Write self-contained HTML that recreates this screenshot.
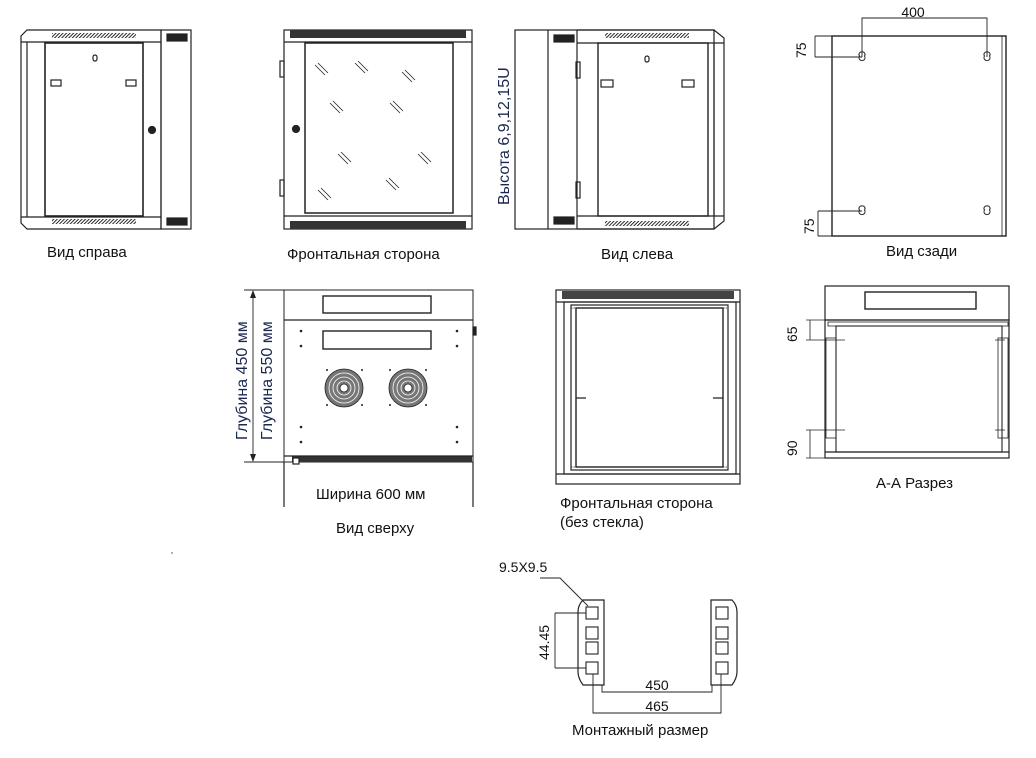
<!DOCTYPE html>
<html><head><meta charset="utf-8"><style>
html,body{margin:0;padding:0;background:#fff;}
svg{display:block;}
text{font-family:"Liberation Sans",sans-serif;fill:#111;}
</style></head><body>
<svg width="1036" height="758" viewBox="0 0 1036 758" xmlns="http://www.w3.org/2000/svg">
<defs>
<pattern id="hatch" width="2.5" height="2.5" patternUnits="userSpaceOnUse" patternTransform="rotate(45)"><rect width="2.5" height="2.5" fill="#fff"/><line x1="0" y1="0" x2="0" y2="2.5" stroke="#111" stroke-width="1.8"/></pattern>
</defs>
<g fill="none" stroke="#222" stroke-width="1.2">
<path d="M27,30 H161 V229 H27 L21,223 V36 Z" fill="#fff"/>
<rect x="161" y="30" width="30" height="199"/>
<rect x="167" y="34" width="20" height="7" fill="#222"/>
<rect x="167" y="218" width="20" height="7" fill="#222"/>
<rect x="52" y="33" width="84" height="5" fill="url(#hatch)" stroke="none"/>
<rect x="52" y="219" width="84" height="5" fill="url(#hatch)" stroke="none"/>
<line x1="21" y1="42" x2="161" y2="42"/><line x1="21" y1="217" x2="161" y2="217"/>
<line x1="27" y1="42" x2="27" y2="217"/>
<rect x="45" y="43" width="98" height="173" stroke-width="1.6"/>
<rect x="51" y="80" width="10" height="6"/><rect x="126" y="80" width="10" height="6"/>
<rect x="93" y="55" width="4" height="6" rx="2"/>
<circle cx="152" cy="130" r="3.5" fill="#222"/>
<rect x="284" y="30" width="188" height="199" fill="#fff"/>
<rect x="290" y="30" width="176" height="8" fill="#333" stroke="none"/>
<rect x="290" y="221" width="176" height="8" fill="#333" stroke="none"/>
<line x1="284" y1="42" x2="472" y2="42"/><line x1="284" y1="216" x2="472" y2="216"/>
<rect x="305" y="43" width="148" height="170" stroke-width="1.5"/>
<rect x="280" y="61" width="4" height="16"/><rect x="280" y="180" width="4" height="16"/>
<circle cx="296" cy="129" r="3.5" fill="#222"/>
<g stroke-width="0.8">
<path d="M315,65 l10,10 M318,63 l10,10 M355,63 l10,10 M358,61 l10,10 M402,72 l10,10 M405,70 l10,10 M330,103 l10,10 M333,101 l10,10 M390,103 l10,10 M393,101 l10,10 M338,154 l10,10 M341,152 l10,10 M418,154 l10,10 M421,152 l10,10 M386,180 l10,10 M389,178 l10,10 M318,190 l10,10 M321,188 l10,10"/>
</g>
<rect x="515" y="30" width="199" height="199" fill="#fff"/>
<path d="M577,30 H714 L724,38 V221 L714,229 H577"/>
<line x1="548" y1="30" x2="548" y2="229"/><line x1="577" y1="30" x2="577" y2="229"/>
<rect x="554" y="35" width="20" height="7" fill="#222"/>
<rect x="554" y="217" width="20" height="7" fill="#222"/>
<rect x="605" y="33" width="84" height="5" fill="url(#hatch)" stroke="none"/>
<rect x="605" y="221" width="84" height="5" fill="url(#hatch)" stroke="none"/>
<line x1="577" y1="43" x2="724" y2="43"/><line x1="577" y1="216" x2="724" y2="216"/>
<rect x="598" y="43" width="110" height="173" stroke-width="1.4"/>
<line x1="714" y1="43" x2="714" y2="216"/>
<rect x="601" y="80" width="12" height="7"/><rect x="682" y="80" width="12" height="7"/>
<rect x="645" y="56" width="4" height="6" rx="2"/>
<rect x="576" y="62" width="4" height="16"/><rect x="576" y="182" width="4" height="16"/>
<rect x="832" y="36" width="174" height="200" stroke-width="1.4"/>
<line x1="1002" y1="36" x2="1002" y2="236" stroke-width="0.8"/>
<g stroke-width="0.9">
<path d="M862,57 V18 H987 V57"/>
<path d="M815,36 H832 M815,57 H862 M815,36 V57"/>
<path d="M818,211 H862 M818,236 H832 M818,211 V236"/>
</g>
<g stroke-width="1">
<path d="M862,52 a2.5,2.5 0 0 1 2.5,4 a3,3 0 1 1 -5,0 a2.5,2.5 0 0 1 2.5,-4z"/>
<path d="M987,52 a2.5,2.5 0 0 1 2.5,4 a3,3 0 1 1 -5,0 a2.5,2.5 0 0 1 2.5,-4z"/>
<path d="M862,206 a2.5,2.5 0 0 1 2.5,4 a3,3 0 1 1 -5,0 a2.5,2.5 0 0 1 2.5,-4z"/>
<path d="M987,206 a2.5,2.5 0 0 1 2.5,4 a3,3 0 1 1 -5,0 a2.5,2.5 0 0 1 2.5,-4z"/>
</g>
<rect x="284" y="290" width="189" height="172" fill="#fff" stroke-width="1"/>
<line x1="284" y1="320" x2="473" y2="320"/>
<line x1="284" y1="462" x2="284" y2="507"/><line x1="473" y1="462" x2="473" y2="507"/>
<rect x="323" y="296" width="108" height="17" stroke-width="1.4"/>
<rect x="323" y="331" width="108" height="18" stroke-width="1.4"/>
<rect x="292" y="456" width="180" height="6" fill="#333" stroke="none"/>
<line x1="284" y1="456" x2="473" y2="456"/>
<rect x="473" y="327" width="3" height="8" fill="#222"/>
<rect x="293" y="458" width="6" height="6" fill="#fff"/>
<g stroke-width="0.9">
<line x1="244" y1="290" x2="284" y2="290"/><line x1="244" y1="462" x2="292" y2="462"/>
<line x1="253" y1="292" x2="253" y2="460"/>
</g>
<path d="M253,290 l-3,8 h6z M253,462 l-3,-8 h6z" fill="#222" stroke="none"/>
<g fill="#222" stroke="none">
<circle cx="301" cy="331" r="1.3"/><circle cx="301" cy="346" r="1.3"/><circle cx="457" cy="331" r="1.3"/><circle cx="457" cy="346" r="1.3"/>
<circle cx="301" cy="427" r="1.3"/><circle cx="301" cy="442" r="1.3"/><circle cx="457" cy="427" r="1.3"/><circle cx="457" cy="442" r="1.3"/>
<circle cx="327" cy="370" r="1"/><circle cx="362" cy="370" r="1"/><circle cx="327" cy="405" r="1"/><circle cx="362" cy="405" r="1"/>
<circle cx="390" cy="370" r="1"/><circle cx="426" cy="370" r="1"/><circle cx="390" cy="405" r="1"/><circle cx="426" cy="405" r="1"/>
</g>
<g stroke-width="0.8">
<circle cx="344" cy="388" r="19" fill="#777"/><circle cx="344" cy="388" r="15" stroke="#fff"/><circle cx="344" cy="388" r="11" stroke="#fff"/><circle cx="344" cy="388" r="7" stroke="#fff"/><circle cx="344" cy="388" r="4" fill="#fff"/>
<circle cx="408" cy="388" r="19" fill="#777"/><circle cx="408" cy="388" r="15" stroke="#fff"/><circle cx="408" cy="388" r="11" stroke="#fff"/><circle cx="408" cy="388" r="7" stroke="#fff"/><circle cx="408" cy="388" r="4" fill="#fff"/>
</g>
<rect x="556" y="290" width="184" height="194"/>
<rect x="562" y="291" width="172" height="8" fill="#444" stroke="none"/>
<line x1="556" y1="302" x2="740" y2="302"/>
<line x1="556" y1="474" x2="740" y2="474"/>
<rect x="564" y="302" width="172" height="172"/>
<rect x="571" y="305" width="157" height="165"/>
<rect x="576" y="308" width="147" height="159" stroke-width="1.4"/>
<rect x="571" y="308" width="5" height="159" stroke-width="0.7" stroke-dasharray="1.5,1"/>
<rect x="723" y="308" width="5" height="159" stroke-width="0.7" stroke-dasharray="1.5,1"/>
<path d="M576,398 h10 M713,398 h10"/>
<rect x="825" y="286" width="184" height="34"/>
<rect x="865" y="292" width="111" height="17" stroke-width="1.4"/>
<rect x="825" y="320" width="184" height="138"/>
<rect x="828" y="322" width="180" height="4" stroke-width="0.8"/>
<rect x="836" y="326" width="166" height="126" stroke-width="1.1"/>
<line x1="825" y1="452" x2="1009" y2="452"/>
<rect x="826" y="338" width="10" height="100" stroke-width="0.8"/>
<rect x="998" y="338" width="10" height="100" stroke-width="0.8"/>
<g stroke-width="0.8">
<path d="M806,320 H825 M806,340 H845 M810,320 V340"/>
<path d="M806,430 H845 M806,458 H825 M810,430 V458"/>
<path d="M995,340 h10 M995,430 h10"/>
</g>
<path d="M583,600 H604 V685 H583 Q578,678 578,672 V612 Q578,605 583,600 Z"/>
<path d="M711,600 H732 Q737,605 737,612 V672 Q737,678 732,685 H711 Z"/>
<g stroke-width="1.1">
<rect x="586" y="607" width="12" height="12"/><rect x="586" y="627" width="12" height="12"/><rect x="586" y="642" width="12" height="12"/><rect x="586" y="662" width="12" height="12"/>
<rect x="716" y="607" width="12" height="12"/><rect x="716" y="627" width="12" height="12"/><rect x="716" y="642" width="12" height="12"/><rect x="716" y="662" width="12" height="12"/>
</g>
<g stroke-width="0.9">
<path d="M540,578 H560 L588,606"/>
<path d="M555,613 H586 M555,668 H586 M555,613 V668"/>
<path d="M602,685 V692 H712 V685"/>
<path d="M593,674 V713 H721 V674"/>
</g>
</g>
<circle cx="172" cy="553" r="0.7" fill="#444"/>
<g font-size="15">
<text x="47" y="257">Вид справа</text>
<text x="287" y="259">Фронтальная сторона</text>
<text x="601" y="259">Вид слева</text>
<text x="886" y="256">Вид сзади</text>
<text x="316" y="499">Ширина 600 мм</text>
<text x="336" y="533">Вид сверху</text>
<text x="560" y="508">Фронтальная сторона</text>
<text x="560" y="527">(без стекла)</text>
<text x="876" y="488">А-А Разрез</text>
<text x="572" y="735">Монтажный размер</text>
</g>
<text transform="translate(509,205) rotate(-90)" font-size="16" style="fill:#1a2850">Высота 6,9,12,15U</text>
<text transform="translate(247,440) rotate(-90)" font-size="16" style="fill:#1a2850">Глубина 450 мм</text>
<text transform="translate(272,440) rotate(-90)" font-size="16" style="fill:#1a2850">Глубина 550 мм</text>
<g font-size="14">
<text x="913" y="17" text-anchor="middle">400</text>
<text transform="translate(806,58) rotate(-90)">75</text>
<text transform="translate(814,234) rotate(-90)">75</text>
<text transform="translate(797,342) rotate(-90)">65</text>
<text transform="translate(797,456) rotate(-90)">90</text>
<text x="499" y="572">9.5X9.5</text>
<text transform="translate(549,660) rotate(-90)">44.45</text>
<text x="657" y="690" text-anchor="middle">450</text>
<text x="657" y="711" text-anchor="middle">465</text>
</g>
</svg>
</body></html>
